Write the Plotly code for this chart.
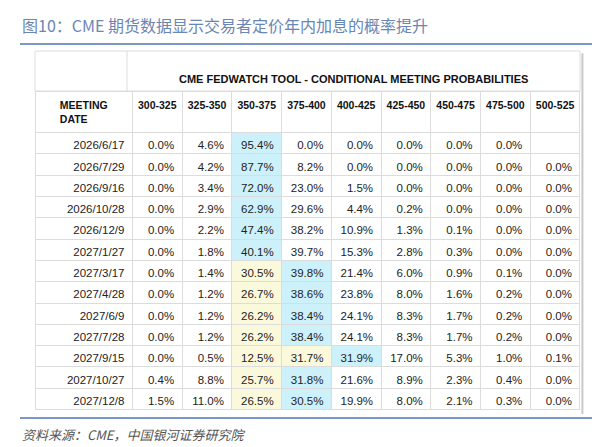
import plotly.graph_objects as go

dates = ["2026/6/17", "2026/7/29", "2026/9/16", "2026/10/28", "2026/12/9", "2027/1/27",
         "2027/3/17", "2027/4/28", "2027/6/9", "2027/7/28", "2027/9/15", "2027/10/27", "2027/12/8"]
ranges = ["300-325", "325-350", "350-375", "375-400", "400-425", "425-450", "450-475", "475-500", "500-525"]
probs = [
    [0.0, 4.6, 95.4, 0.0, 0.0, 0.0, 0.0, 0.0, None],
    [0.0, 4.2, 87.7, 8.2, 0.0, 0.0, 0.0, 0.0, 0.0],
    [0.0, 3.4, 72.0, 23.0, 1.5, 0.0, 0.0, 0.0, 0.0],
    [0.0, 2.9, 62.9, 29.6, 4.4, 0.2, 0.0, 0.0, 0.0],
    [0.0, 2.2, 47.4, 38.2, 10.9, 1.3, 0.1, 0.0, 0.0],
    [0.0, 1.8, 40.1, 39.7, 15.3, 2.8, 0.3, 0.0, 0.0],
    [0.0, 1.4, 30.5, 39.8, 21.4, 6.0, 0.9, 0.1, 0.0],
    [0.0, 1.2, 26.7, 38.6, 23.8, 8.0, 1.6, 0.2, 0.0],
    [0.0, 1.2, 26.2, 38.4, 24.1, 8.3, 1.7, 0.2, 0.0],
    [0.0, 1.2, 26.2, 38.4, 24.1, 8.3, 1.7, 0.2, 0.0],
    [0.0, 0.5, 12.5, 31.7, 31.9, 17.0, 5.3, 1.0, 0.1],
    [0.4, 8.8, 25.7, 31.8, 21.6, 8.9, 2.3, 0.4, 0.0],
    [1.5, 11.0, 26.5, 30.5, 19.9, 8.0, 2.1, 0.3, 0.0],
]

BLUE, YELLOW, WHITE = "#cdf1fb", "#fbf9dc", "white"
CUR = 2  # current target range column

# colour per cell: row max blue, cells from the current range up to the max yellow
fills = [[WHITE] * len(dates)]
for j in range(len(ranges)):
    col = []
    for row in probs:
        vals = [v if v is not None else -1 for v in row]
        m = vals.index(max(vals))
        if j == m:
            col.append(BLUE)
        elif CUR <= j < m:
            col.append(YELLOW)
        else:
            col.append(WHITE)
    fills.append(col)

cells = [dates] + [["" if r[j] is None else f"{r[j]:.1f}%" for r in probs] for j in range(len(ranges))]

x0, x1 = 27 / 600, 572 / 600
yb, yt, ytop = 1 - 406 / 447, 1 - 83 / 447, 1 - 43 / 447
grid = "#dcdcdc"

fig = go.Figure(go.Table(
    domain=dict(x=[x0, x1], y=[yb, yt]),
    columnwidth=[98] + [50] * 9,
    header=dict(values=["<b>MEETING DATE</b>"] + [f"<b>{r}</b>" for r in ranges],
                fill_color="white", line_color=grid, align="center", height=40,
                font=dict(family="Liberation Sans, Arial", size=10.5, color="#111")),
    cells=dict(values=cells, fill_color=fills, line_color=grid, align="right", height=21.3,
               font=dict(family="Liberation Sans, Arial", size=11.5, color="#222")),
))

# merged title row above the table header
fig.add_shape(type="rect", xref="paper", yref="paper", x0=x0, x1=x1, y0=yt, y1=ytop,
              line=dict(color=grid, width=1), fillcolor="white")
fig.add_shape(type="line", xref="paper", yref="paper", x0=119 / 600, x1=119 / 600, y0=yt, y1=ytop,
              line=dict(color=grid, width=1))
fig.add_annotation(xref="paper", yref="paper", x=(119 + 572) / 1200, y=(yt + ytop) / 2,
                   text="<b>CME FEDWATCH TOOL - CONDITIONAL MEETING PROBABILITIES</b>", showarrow=False,
                   font=dict(family="Liberation Sans, Arial", size=11, color="#111"))
# shadow on the right of the table
fig.add_shape(type="line", xref="paper", yref="paper", x0=x1 + 0.004, x1=x1 + 0.004, y0=yb, y1=ytop - 0.005,
              line=dict(color="#c8c8c8", width=2))

# title, rules and source
fig.add_annotation(xref="paper", yref="paper", x=12 / 600, y=1 - 3 / 447, xanchor="left", yanchor="top",
                   text="图10：CME 期货数据显示交易者定价年内加息的概率提升", showarrow=False,
                   font=dict(family="Noto Sans CJK SC", size=16, color="#6a86b5"))
for y in [1 - 36 / 447, 1 - 410 / 447]:
    fig.add_shape(type="line", xref="paper", yref="paper", x0=12 / 600, x1=588 / 600, y0=y, y1=y,
                  line=dict(color="#4f74b3", width=1.5))
fig.add_annotation(xref="paper", yref="paper", x=12 / 600, y=1 - 415 / 447, xanchor="left", yanchor="top",
                   text="<i>资料来源：CME，中国银河证券研究院</i>", showarrow=False,
                   font=dict(family="Noto Sans CJK SC", size=13, color="#555"))

fig.update_layout(width=600, height=447, margin=dict(l=0, r=0, t=0, b=0),
                  paper_bgcolor="white", plot_bgcolor="white")
fig.write_html("out.html")
